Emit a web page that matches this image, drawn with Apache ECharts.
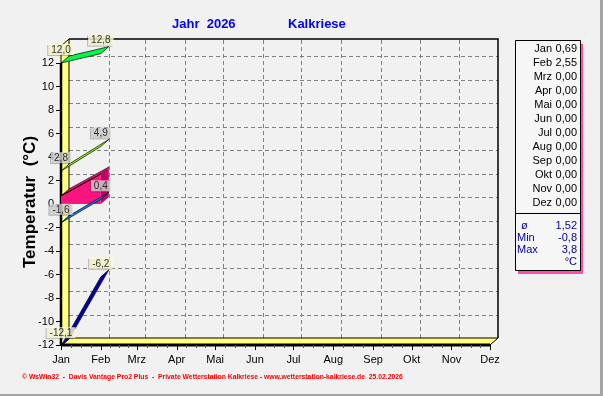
<!DOCTYPE html>
<html>
<head>
<meta charset="utf-8">
<script src="https://cdn.jsdelivr.net/npm/echarts@6/dist/echarts.min.js"></script>
<style>
html,body{margin:0;padding:0;background:#f1f1f1;}
#c{width:603px;height:396px;}
</style>
</head>
<body>
<div id="c"></div>
<script>
// ---- data ----
const monthStarts = [0, 31, 59, 90, 120, 151, 181, 212, 243, 273, 304, 334];
const monthNames = ['Jan', 'Feb', 'Mrz', 'Apr', 'Mai', 'Jun', 'Jul', 'Aug', 'Sep', 'Okt', 'Nov', 'Dez'];
const yTicks = [-12, -10, -8, -6, -4, -2, 0, 2, 4, 6, 8, 10, 12];
const absMax = [12.0, 12.8];
const meanMax = [2.8, 4.9];
const meanTemp = [0.69, 2.55];
const meanMin = [-1.6, 0.4];
const absMin = [-12.1, -6.2];
const monthMeans = [0.69, 2.55, 0, 0, 0, 0, 0, 0, 0, 0, 0, 0];
const statNames = ['ø', 'Min', 'Max'];
const statValues = ['1,52', '-0,8', '3,8'];
const statUnit = '°C';
const titleYear = 'Jahr  2026';
const titleStation = 'Kalkriese';
const yTitle = 'Temperatur  (°C)';
const footer = '© WsWin32  -  Davis Vantage Pro2 Plus  -  Private Wetterstation Kalkriese - www.wetterstation-kalkriese.de  25.02.2026';

// ---- layout constants ----
const DX = 8, DY = -7;
const X_MIN = 0, X_MAX = 334, Y_MIN = -12, Y_MAX = 13.45;
const FONT = 'Liberation Sans, Arial, sans-serif';

const chart = echarts.init(document.getElementById('c'), null, {renderer: 'canvas'});

function fmt(v, d) { return v.toFixed(d).replace('.', ','); }

function ribbon(name, vals, fill, z) {
  const data = [];
  for (let i = 0; i < vals.length - 1; i++) data.push([monthStarts[i], vals[i], monthStarts[i + 1], vals[i + 1]]);
  return {
    type: 'custom', name, coordinateSystem: 'cartesian2d', data, z, clip: false,
    encode: {x: [0, 2], y: [1, 3]},
    renderItem: (params, api) => {
      const p0 = api.coord([api.value(0), api.value(1)]);
      const p1 = api.coord([api.value(2), api.value(3)]);
      return {
        type: 'polygon',
        shape: {points: [p0, p1, [p1[0] + DX, p1[1] + DY], [p0[0] + DX, p0[1] + DY]]},
        style: {fill, stroke: '#000', lineWidth: 0.7}
      };
    }
  };
}

function area(name, vals, fill, topFill, z) {
  const data = [];
  for (let i = 0; i < vals.length - 1; i++) data.push([monthStarts[i], vals[i], monthStarts[i + 1], vals[i + 1]]);
  return {
    type: 'custom', name, coordinateSystem: 'cartesian2d', data, z, clip: false,
    encode: {x: [0, 2], y: [1, 3]},
    renderItem: (params, api) => {
      const x0 = api.value(0), x1 = api.value(2);
      const p0 = api.coord([x0, api.value(1)]);
      const p1 = api.coord([x1, api.value(3)]);
      const b0 = api.coord([x0, 0]);
      const b1 = api.coord([x1, 0]);
      const o = p => [p[0] + DX, p[1] + DY];
      return {
        type: 'group',
        children: [
          {type: 'polygon', shape: {points: [p0, p1, o(p1), o(p0)]}, style: {fill: topFill, stroke: '#000', lineWidth: 0.6}},
          {type: 'polygon', shape: {points: [p1, o(p1), o(b1), b1]}, style: {fill: '#c80060'}},
          {type: 'polygon', shape: {points: [p0, p1, b1, b0]}, style: {fill}},
          {type: 'line', shape: {x1: p0[0], y1: p0[1], x2: p1[0], y2: p1[1]}, style: {stroke: '#000', lineWidth: 1}}
        ]
      };
    }
  };
}

function labels(name, vals, bg, z) {
  return {
    type: 'scatter', name, z, symbolSize: 0, silent: true, clip: false,
    data: vals.map((v, i) => [monthStarts[i], v]),
    label: {
      show: true, position: 'top', distance: 8,
      formatter: p => fmt(p.value[1], 1),
      backgroundColor: bg, padding: [1, 3, 0, 3],
      color: '#000', fontSize: 10, fontFamily: FONT,
      shadowColor: 'rgba(0,0,0,0.3)', shadowOffsetX: -1, shadowOffsetY: 1, shadowBlur: 0
    }
  };
}

const frame = {
  type: 'custom', name: 'frame', coordinateSystem: 'cartesian2d', data: [[0, 0]], z: 1, clip: false, silent: true,
  renderItem: (params, api) => {
    const tl = api.coord([X_MIN, Y_MAX]);
    const bl = api.coord([X_MIN, Y_MIN]);
    const br = api.coord([X_MAX, Y_MIN]);
    const tr = api.coord([X_MAX, Y_MAX]);
    const o = p => [p[0] + DX, p[1] + DY];
    const ch = [];
    const dash = {stroke: '#808080', lineWidth: 1, lineDash: [4, 3]};
    for (let i = 1; i < monthStarts.length - 1; i++) {
      const a = o(api.coord([monthStarts[i], Y_MIN]));
      const b = o(api.coord([monthStarts[i], Y_MAX]));
      ch.push({type: 'line', shape: {x1: Math.round(a[0]) + 0.5, y1: a[1], x2: Math.round(b[0]) + 0.5, y2: b[1]}, style: dash});
    }
    for (const v of yTicks) {
      const a = o(api.coord([X_MIN, v]));
      const b = o(api.coord([X_MAX, v]));
      ch.push({type: 'line', shape: {x1: a[0], y1: Math.round(a[1]) + 0.5, x2: b[0], y2: Math.round(b[1]) + 0.5}, style: dash});
    }
    const otl = o(tl), otr = o(tr), obr = o(br), obl = o(bl);
    ch.push({type: 'polyline', shape: {points: [otl, otr, obr]}, style: {stroke: '#000', lineWidth: 1.5, fill: null}});
    // left wall
    ch.push({type: 'polygon', shape: {points: [tl, otl, obl, bl]}, style: {fill: '#ffff84', stroke: '#000', lineWidth: 1}});
    // floor
    ch.push({type: 'polygon', shape: {points: [bl, obl, obr, br]}, style: {fill: '#ffff84', stroke: '#000', lineWidth: 1}});
    // front edges
    ch.push({type: 'line', shape: {x1: tl[0], y1: api.coord([X_MIN, 12])[1], x2: bl[0], y2: bl[1]}, style: {stroke: '#000', lineWidth: 2.5}});
    ch.push({type: 'line', shape: {x1: bl[0], y1: bl[1], x2: br[0], y2: br[1]}, style: {stroke: '#000', lineWidth: 3}});
    // major and minor ticks below the floor edge
    for (const d of monthStarts) {
      const p = api.coord([d, Y_MIN]);
      ch.push({type: 'line', shape: {x1: Math.round(p[0]) + 0.5, y1: p[1], x2: Math.round(p[0]) + 0.5, y2: p[1] + 5}, style: {stroke: '#000', lineWidth: 1}});
    }
    for (const d of minorTicks) {
      const p = api.coord([d, Y_MIN]);
      ch.push({type: 'line', shape: {x1: Math.round(p[0]) + 0.5, y1: p[1], x2: Math.round(p[0]) + 0.5, y2: p[1] + 3}, style: {stroke: '#555', lineWidth: 1}});
    }
    return {type: 'group', children: ch};
  }
};

// minor x ticks: quarter points of each month
const minorTicks = [];
for (let i = 0; i < monthStarts.length - 1; i++) {
  const a = monthStarts[i], b = monthStarts[i + 1];
  for (let k = 1; k < 4; k++) minorTicks.push(a + (b - a) * k / 4);
}

// legend box graphics
const LX = 515, LY = 40, LW = 65, LH = 230;
const legendChildren = [
  {type: 'rect', shape: {x: LX + 3, y: LY + 4, width: LW, height: LH}, style: {fill: '#ff4fa3'}},
  {type: 'rect', shape: {x: LX + 0.5, y: LY + 0.5, width: LW, height: LH}, style: {fill: '#f6f6f6', stroke: '#000', lineWidth: 1}},
  {type: 'line', shape: {x1: LX, y1: 213.5, x2: LX + LW, y2: 213.5}, style: {stroke: '#000', lineWidth: 1}}
];
monthNames.forEach((m, i) => {
  const y = 49 + i * 14;
  legendChildren.push({type: 'text', style: {text: m, x: 552, y, align: 'right', verticalAlign: 'middle', font: '11px ' + FONT, fill: '#000'}});
  legendChildren.push({type: 'text', style: {text: fmt(monthMeans[i], 2), x: 577, y, align: 'right', verticalAlign: 'middle', font: '11px ' + FONT, fill: '#000'}});
});
statNames.forEach((s, i) => {
  const y = 226 + i * 12;
  legendChildren.push({type: 'text', style: {text: s, x: i === 0 ? 521 : 517, y, align: 'left', verticalAlign: 'middle', font: '11px ' + FONT, fill: '#0000a8'}});
  legendChildren.push({type: 'text', style: {text: statValues[i], x: 577, y, align: 'right', verticalAlign: 'middle', font: '11px ' + FONT, fill: '#0000a8'}});
});
legendChildren.push({type: 'text', style: {text: statUnit, x: 577, y: 262, align: 'right', verticalAlign: 'middle', font: '11px ' + FONT, fill: '#0000a8'}});

const option = {
  backgroundColor: '#f1f1f1',
  animation: false,
  grid: {left: 61, right: 113, top: 46, bottom: 51},
  xAxis: {
    type: 'value', min: X_MIN, max: X_MAX, position: 'bottom',
    axisLine: {show: false, onZero: false},
    splitLine: {show: false},
    axisTick: {show: false},
    axisLabel: {
      customValues: monthStarts, margin: 9,
      formatter: v => monthNames[monthStarts.indexOf(v)] || '',
      color: '#000', fontSize: 11, fontFamily: FONT
    }
  },
  yAxis: {
    type: 'value', min: Y_MIN, max: Y_MAX,
    axisLine: {show: false, onZero: false},
    splitLine: {show: false},
    axisTick: {show: true, customValues: yTicks, length: 5, lineStyle: {color: '#000'}},
    axisLabel: {customValues: yTicks, margin: 7, color: '#000', fontSize: 11, fontFamily: FONT}
  },
  series: [
    frame,
    area('Mittel', meanTemp, '#fa1480', '#ee0c76', 2),
    ribbon('Abs. Max', absMax, '#00f848', 3),
    ribbon('Mittl. Max', meanMax, '#8cff10', 3),
    ribbon('Mittl. Min', meanMin, '#1080ff', 3),
    ribbon('Abs. Min', absMin, '#0000a8', 3),
    labels('lAbsMax', absMax, '#ffffd8', 5),
    labels('lMeanMax', meanMax, '#d6d6d6', 5),
    labels('lMeanMin', meanMin, '#d6d6d6', 5),
    labels('lAbsMin', absMin, '#ffffd8', 5)
  ],
  graphic: [
    {type: 'text', left: 172, top: 18, style: {text: titleYear, font: 'bold 13px ' + FONT, fill: '#0000ff'}},
    {type: 'text', left: 288, top: 18, style: {text: titleStation, font: 'bold 13px ' + FONT, fill: '#0000ff'}},
    {type: 'text', x: 30, y: 202, rotation: Math.PI / 2, style: {text: yTitle, font: 'bold 17px ' + FONT, fill: '#000', align: 'center', verticalAlign: 'middle'}},
    {type: 'text', x: 22, y: 377, style: {text: footer, font: 'bold 6.8px ' + FONT, fill: '#ff0000', verticalAlign: 'middle'}},
    {type: 'group', children: legendChildren},
    {type: 'rect', shape: {x: 600, y: 0, width: 3, height: 396}, style: {fill: '#a4a4a4'}},
    {type: 'rect', shape: {x: 0, y: 394, width: 603, height: 2}, style: {fill: '#a4a4a4'}}
  ]
};
chart.setOption(option);
</script>
</body>
</html>
